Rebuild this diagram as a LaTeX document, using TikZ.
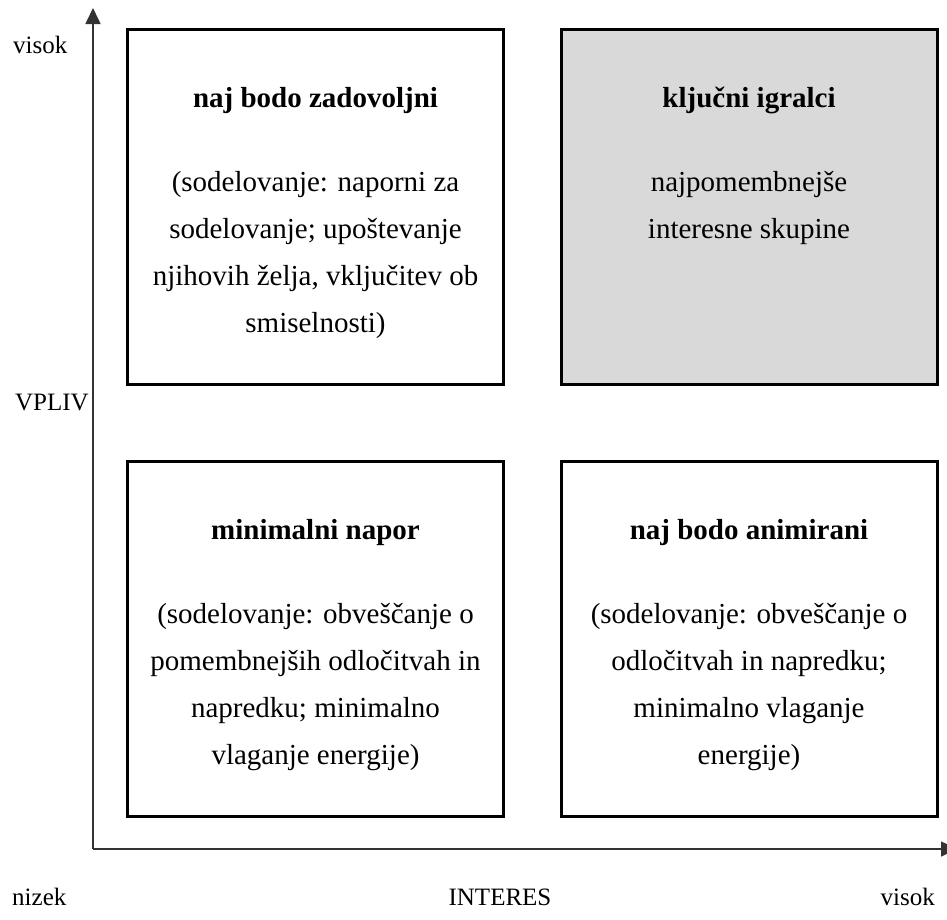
\documentclass[tikz,border=0pt]{standalone}
\usepackage{fontspec}
\setmainfont{Liberation Serif}
\usetikzlibrary{arrows.meta}
\definecolor{boxgray}{RGB}{217,217,217}
\begin{document}
\begin{tikzpicture}[x=1pt,y=-1pt,
  quad/.style={draw, line width=3pt, minimum width=376pt, minimum height=355pt, inner sep=0pt},
  ttl/.style={font=\fontsize{29}{47}\selectfont\bfseries, anchor=base, inner sep=0pt},
  body/.style={font=\fontsize{29}{47}\selectfont, align=center, anchor=base, inner sep=0pt},
  lbl/.style={font=\fontsize{25}{30}\selectfont, inner sep=0pt},
  axis/.style={line width=1.6pt, draw=black!80, -{Triangle[length=16pt,width=15pt]}}]
\useasboundingbox (0,0) rectangle (947,919);
% boxes
\node[quad] (tl) at (315.5,207) {};
\node[quad, fill=boxgray] (tr) at (749,207) {};
\node[quad] (bl) at (315.5,639) {};
\node[quad] (br) at (749,639) {};
% texts (body base = baseline of last line)
\node[ttl] (tlt) at (315.5,107) {naj bodo zadovoljni};
\node[body] (tlb) at (315.5,332) {(sodelovanje: naporni za\\sodelovanje; upoštevanje\\njihovih želja, vključitev ob\\smiselnosti)};
\node[ttl] (trt) at (749,107) {ključni igralci};
\node[body] (trb) at (749,238) {najpomembnejše\\interesne skupine};
\node[ttl] (blt) at (315.5,539) {minimalni napor};
\node[body] (blb) at (315.5,764) {(sodelovanje: obveščanje o\\pomembnejših odločitvah in\\napredku; minimalno\\vlaganje energije)};
\node[ttl] (brt) at (749,539) {naj bodo animirani};
\node[body] (brb) at (749,764) {(sodelovanje: obveščanje o\\odločitvah in napredku;\\minimalno vlaganje\\energije)};
% axes
\coordinate (o) at (93,849);
\coordinate (ytip) at (93,8);
\coordinate (xtip) at (957,849);
\draw[axis] (o) -- (ytip);
\draw[axis] (o) -- (xtip);
% labels
\node[lbl, anchor=base west] (vis) at (13,53) {visok};
\node[lbl, anchor=base west] (vpl) at (15,410) {VPLIV};
\node[lbl, anchor=base west] (niz) at (12,905) {nizek};
\node[lbl, anchor=base] (int) at (500,905) {INTERES};
\node[lbl, anchor=base east] (vis2) at (935,905) {visok};
\end{tikzpicture}
\end{document}
